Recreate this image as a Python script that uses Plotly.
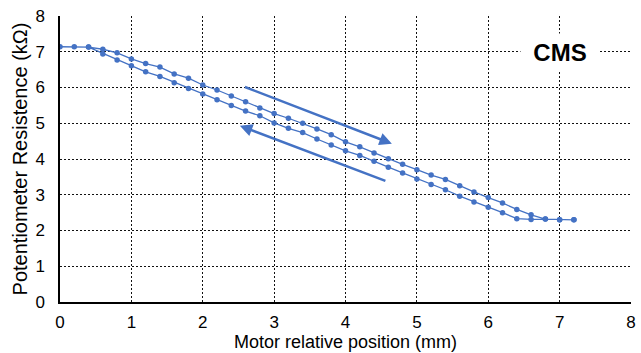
import plotly.graph_objects as go

# Forward sweep (upper branch)
fwd_x = [0.0, 0.2, 0.4, 0.6, 0.8, 1.0, 1.2, 1.4, 1.6, 1.8, 2.0, 2.2, 2.4, 2.6, 2.8,
         3.0, 3.2, 3.4, 3.6, 3.8, 4.0, 4.2, 4.4, 4.6, 4.8, 5.0, 5.2, 5.4, 5.6, 5.8,
         6.0, 6.2, 6.4, 6.6, 6.8, 7.0, 7.2]
fwd_y = [7.14, 7.14, 7.13, 7.07, 6.97, 6.80, 6.67, 6.57, 6.38, 6.26, 6.07, 5.93, 5.76,
         5.60, 5.43, 5.27, 5.14, 5.00, 4.84, 4.68, 4.48, 4.34, 4.17, 4.01, 3.85, 3.70,
         3.55, 3.43, 3.25, 3.08, 2.92, 2.77, 2.59, 2.44, 2.32, 2.30, 2.30]

# Return sweep (lower branch)
ret_x = [7.2, 7.0, 6.8, 6.6, 6.4, 6.2, 6.0, 5.8, 5.6, 5.4, 5.2, 5.0, 4.8, 4.6, 4.4,
         4.2, 4.0, 3.8, 3.6, 3.4, 3.2, 3.0, 2.8, 2.6, 2.4, 2.2, 2.0, 1.8, 1.6, 1.4,
         1.2, 1.0, 0.8, 0.6, 0.4]
ret_y = [2.30, 2.30, 2.32, 2.31, 2.33, 2.50, 2.65, 2.80, 2.96, 3.14, 3.29, 3.44, 3.61,
         3.77, 3.94, 4.10, 4.23, 4.39, 4.56, 4.74, 4.86, 5.01, 5.21, 5.34, 5.50, 5.66,
         5.82, 5.97, 6.13, 6.31, 6.44, 6.61, 6.77, 6.94, 7.13]

x_ticks = [0, 1, 2, 3, 4, 5, 6, 7, 8]
y_ticks = [0, 1, 2, 3, 4, 5, 6, 7, 8]

# Direction arrows (tail -> head), data coordinates
arrow_fwd = ((2.57, 6.03), (4.65, 4.43))
arrow_ret = ((4.58, 3.37), (2.52, 4.93))

BLUE = "#4472C4"

fig = go.Figure()
fig.add_trace(go.Scatter(
    x=fwd_x + ret_x, y=fwd_y + ret_y, mode="lines+markers",
    line=dict(color=BLUE, width=1.3),
    marker=dict(color=BLUE, size=5.5),
    showlegend=False, hoverinfo="skip"))

for (tx, ty), (hx, hy) in (arrow_fwd, arrow_ret):
    fig.add_annotation(x=hx, y=hy, ax=tx, ay=ty, xref="x", yref="y",
                       axref="x", ayref="y", text="", showarrow=True,
                       arrowhead=2, arrowsize=1, arrowwidth=2.5, arrowcolor=BLUE)

fig.add_annotation(x=7.0, y=7.0, xref="x", yref="y", text="<b>CMS</b>",
                   showarrow=False, bgcolor="white", width=76, height=34,
                   font=dict(family="Liberation Sans, Arial", size=24, color="black"))

font = dict(family="Liberation Sans, Arial, Helvetica", color="black")
fig.update_layout(
    width=641, height=353,
    margin=dict(l=60, r=10, t=16, b=51),
    paper_bgcolor="white", plot_bgcolor="white",
    font=font,
    xaxis=dict(range=[0, 8], tickvals=x_ticks, ticktext=[str(v) for v in x_ticks],
               showgrid=True, gridcolor="#111", griddash="2px,2px", gridwidth=1,
               showline=True, linecolor="black", linewidth=1.5, zeroline=False,
               ticks="", ticklabelstandoff=4, tickfont=dict(size=17), automargin=False,
               title=dict(text="Motor relative position (mm)", font=dict(size=18),
                          standoff=3)),
    yaxis=dict(range=[0, 8], tickvals=y_ticks, ticktext=[str(v) for v in y_ticks],
               showgrid=True, gridcolor="#111", griddash="2px,2px", gridwidth=1,
               showline=True, linecolor="black", linewidth=1.5, zeroline=False,
               ticks="", ticklabelstandoff=10, tickfont=dict(size=17), automargin=False,
               title=dict(text="Potentiometer Resistence (kΩ)", font=dict(size=20),
                          standoff=2)),
)

fig.write_html("out.html", config={"displayModeBar": False},
               post_script="document.body.style.margin='0';document.body.style.overflow='hidden';")
